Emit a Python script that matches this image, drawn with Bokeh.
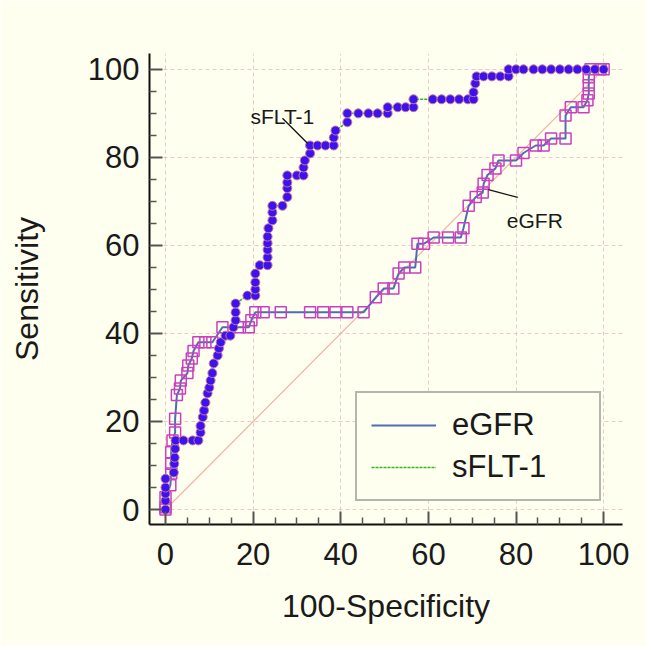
from bokeh.plotting import figure
from bokeh.models import Range1d, FixedTicker, Legend, LegendItem, Label
from bokeh.embed import file_html
from bokeh.resources import INLINE

# ---------------- data ----------------
egfr_x = [0, 0, 0, 1.1, 1.3, 1.3, 1.3, 1.6, 2.2, 2.2, 2.6, 3.3, 3.5, 5, 5.2, 6, 6.4,
          7.5, 9.1, 10.7, 13, 17, 19, 19.6, 20.5, 22.4, 26.3, 33, 36, 38.8, 41.5, 45.2,
          48, 49.8, 52, 53.2, 54.5, 57, 57.5, 59, 61.2, 64.5, 67.4, 68, 69.2, 70.8, 72.4,
          72.6, 73.5, 75.3, 76, 80, 81.7, 84.5, 86.3, 88, 91.3, 91.3, 92.5, 95.4, 96.3,
          96.6, 96.6, 96.6, 97, 99.3, 100]
egfr_y = [0, 0.5, 2.8, 5.5, 8.2, 10.4, 13, 15.7, 17.5, 20.6, 26, 27.5, 29.3, 31, 32.7, 34.3, 36,
          38, 38, 38, 41.4, 41.4, 41.4, 43, 44.8, 44.8, 44.8, 44.8, 44.8, 44.8, 44.8, 44.8,
          48.2, 50.2, 50.2, 53.6, 55, 55, 60.4, 60.4, 61.8, 61.8, 61.8, 63.9, 69, 71, 72,
          74, 76, 77.5, 79.3, 79.3, 81, 82.7, 82.7, 84.3, 84.3, 89.5, 91.4, 91.4, 93,
          94.5, 96.4, 98.2, 100, 100, 100]

sflt_x = [0, 0, 0, 0, 0, 1.9, 2, 2.1, 2.2, 2.3, 4.1, 6.2, 7.5, 8, 8, 8.5, 8.8, 9.1,
          9.6, 10, 10.3, 10.7, 11, 11.9, 12.2, 12.6, 13.7, 14.8, 15.5, 16, 16, 16,
          18.7, 20.5, 20.5, 20.5, 20.5, 21.5, 23.3, 23.3, 23.3, 23.3, 23.3, 23.5, 24.4,
          24.4, 24.4, 26.7, 27.8, 27.8, 27.8, 27.8, 30, 31.5, 31.5, 31.8, 33, 33,
          34.7, 36.5, 38.4, 38.4, 38.8, 41.5, 41.5, 44, 46.3, 48.4, 50.7, 50.7, 53,
          54.8, 56.6, 56.6, 61, 63, 65, 67, 69, 70.3, 70.3, 70.7, 71, 72.6, 74.5, 76.4,
          78.3, 78.3, 80, 81.7, 84, 86, 88, 90, 92, 94, 96, 98, 100]
sflt_y = [0, 2, 3.6, 5, 7, 8.4, 10.4, 11.8, 13.8, 15.7, 15.7, 15.7, 15.7, 17.5, 19, 21, 22.5, 24.3,
          26.4, 27.7, 29.3, 31, 33.2, 35, 36.6, 38, 39.5, 39.5, 41.4, 43, 44.8, 46.8,
          48.6, 48.6, 50, 51.6, 53.6, 55.5, 55.5, 57.3, 59, 60.5, 62, 63.9, 65.7,
          67.5, 69, 69, 71, 73, 74.3, 75.9, 75.9, 75.9, 77.7, 79.3, 80.9, 82.7,
          82.7, 82.7, 82.7, 84.5, 86.1, 88, 90, 90, 90, 90, 90, 91.4, 91.4,
          91.4, 91.4, 93.2, 93.2, 93.2, 93.2, 93.2, 93.2, 93.2, 94.8, 96.8, 98.4, 98.4, 98.4, 98.4,
          98.4, 100, 100, 100, 100, 100, 100, 100, 100, 100, 100, 100, 100]

diag_x = [0, 100]
diag_y = [0, 100]

major_ticks = [0, 20, 40, 60, 80, 100]
minor_ticks = [5, 10, 15, 25, 30, 35, 45, 50, 55, 65, 70, 75, 85, 90, 95]

# annotation labels (text, anchor of text, leader line start/end)
ann_text = ["sFLT-1", "eGFR"]
ann_tx = [19.4, 77.9]
ann_ty = [89.2, 65.7]
lead_x0 = [26.7, 73.7]
lead_y0 = [88.9, 72.7]
lead_x1 = [32.4, 80.4]
lead_y1 = [83.2, 70.9]

# ---------------- styles ----------------
BG = "#FFFFF0"
FONT = "Liberation Sans"

p = figure(width=646, height=646,
           x_range=Range1d(-3.65, 104.3), y_range=Range1d(-3.4, 103.6),
           output_backend="svg", toolbar_location=None,
           background_fill_color=BG, border_fill_color=BG,
           min_border_left=149, min_border_right=24,
           min_border_top=53, min_border_bottom=122)
p.outline_line_color = None

# axes
for ax in (p.xaxis[0], p.yaxis[0]):
    ax.ticker = FixedTicker(ticks=major_ticks, minor_ticks=minor_ticks)
    ax.axis_line_color = "#111111"
    ax.axis_line_width = 2
    ax.major_tick_in = 13
    ax.major_tick_out = 0
    ax.minor_tick_in = 7
    ax.minor_tick_out = 0
    ax.major_tick_line_color = "#555555"
    ax.major_tick_line_width = 2
    ax.minor_tick_line_color = "#555555"
    ax.minor_tick_line_width = 1.5
    ax.major_label_text_font = FONT
    ax.major_label_text_font_size = "31px"
    ax.major_label_text_color = "#1a1a1a"
    ax.axis_label_text_font = FONT
    ax.axis_label_text_font_size = "32px"
    ax.axis_label_text_font_style = "normal"
    ax.axis_label_text_color = "#1a1a1a"

p.xaxis.axis_label = "100-Specificity"
p.yaxis.axis_label = "Sensitivity"
p.xaxis.major_label_standoff = 18
p.yaxis.major_label_standoff = 10
p.xaxis.axis_label_standoff = 20
p.yaxis.axis_label_standoff = 40

# grid
for g in (p.xgrid[0], p.ygrid[0]):
    g.grid_line_color = "#d9b8b0"
    g.grid_line_dash = "4 3"
    g.grid_line_alpha = 0.7
    g.grid_line_width = 1

# diagonal reference line
p.line(diag_x, diag_y, line_color="#f0b4a4", line_width=1.2)

# ROC lines
l_egfr = p.line(egfr_x, egfr_y, line_color="#4a6fb5", line_width=2)
l_sflt = p.line(sflt_x, sflt_y, line_color="#2fb52a", line_width=1.5, line_dash="3 1")

# markers
p.scatter(egfr_x, egfr_y, marker="square", size=11, fill_color=None,
          line_color="#cc3fbf", line_width=1.5)
p.scatter(sflt_x, sflt_y, marker="circle", size=9, fill_color="#3d12f0",
          line_color="#c87890", line_width=1)

# annotations
p.segment(x0=lead_x0, y0=lead_y0, x1=lead_x1, y1=lead_y1, line_color="#111111", line_width=1.3)
for t, x, y in zip(ann_text, ann_tx, ann_ty):
    p.add_layout(Label(x=x, y=y, text=t, text_font=FONT, text_font_size="21px",
                       text_color="#1a1a1a", text_baseline="alphabetic", text_align="left"))

# legend
legend = Legend(items=[LegendItem(label="eGFR", renderers=[l_egfr]),
                       LegendItem(label="sFLT-1", renderers=[l_sflt])],
                location=(206, 23), margin=0, padding=14, spacing=6,
                glyph_width=65, glyph_height=28, label_height=28, label_width=133,
                label_standoff=16,
                label_text_font=FONT, label_text_font_size="31px", label_text_color="#1a1a1a",
                border_line_color="#6e6e6e", border_line_width=2,
                background_fill_color=BG, background_fill_alpha=1)
p.add_layout(legend)

open("out.html", "w").write(file_html(p, INLINE))
